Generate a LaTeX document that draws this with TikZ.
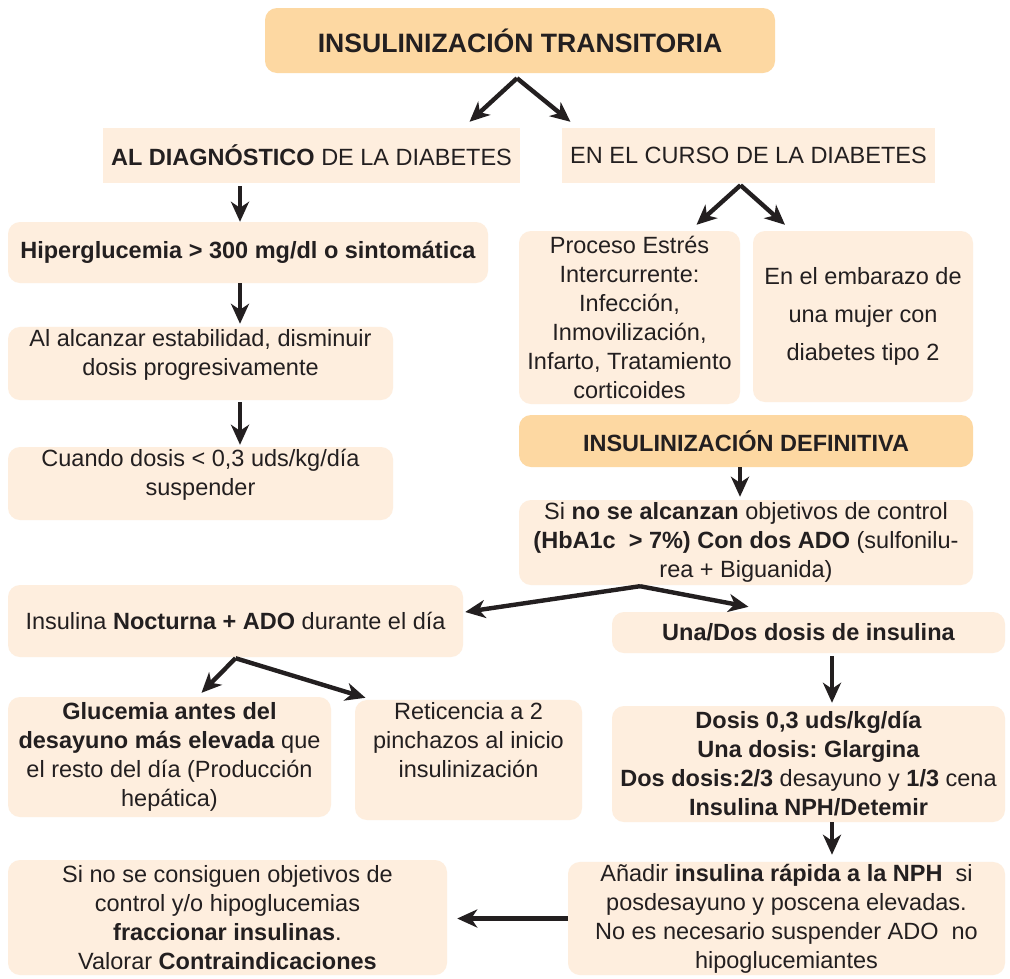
\documentclass[tikz,border=0pt]{standalone}
\usepackage{fontspec}
\setmainfont{Liberation Sans}
\usetikzlibrary{arrows.meta}
\frenchspacing
\definecolor{peachdark}{RGB}{253,216,162}
\definecolor{peachlight}{RGB}{254,238,222}
\definecolor{inkgray}{RGB}{35,31,32}
\tikzstyle{darkbox} = [rectangle, rounded corners=12pt, draw=none, fill=peachdark, text=inkgray, align=center, inner sep=2pt, font=\fontsize{23.5}{29}\selectfont]
\tikzstyle{lightbox} = [rectangle, rounded corners=12pt, draw=none, fill=peachlight, text=inkgray, align=center, inner sep=2pt, font=\fontsize{23.5}{29}\selectfont]
\tikzstyle{plainbox} = [rectangle, draw=none, fill=peachlight, text=inkgray, align=center, inner sep=2pt, font=\fontsize{23.5}{29}\selectfont]
\tikzstyle{edge} = [draw=inkgray, line width=4.4pt, -{Stealth[length=20pt, width=18pt, inset=6pt]}]

\begin{document}
\begin{tikzpicture}[x=1pt, y=-1pt]
\path[fill=white] (0,0) rectangle (1010,978);

\node (title) [darkbox, minimum width=510pt, minimum height=65pt, font=\fontsize{26.6}{30}\selectfont] at (520,40.5) {\textbf{INSULINIZACIÓN TRANSITORIA}};
\node (diag) [plainbox, minimum width=417pt, minimum height=55pt] at (311.5,155.5) {\textbf{AL DIAGNÓSTICO} DE LA DIABETES};
\node (curso) [plainbox, minimum width=373pt, minimum height=55pt] at (748.5,155.5) {EN EL CURSO DE LA DIABETES};

% left column
\node (hiper) [lightbox, minimum width=480pt, minimum height=61pt] at (248,252.5) {\textbf{Hiperglucemia > 300 mg/dl o sintomática}};
\node (estab) [lightbox, minimum width=385pt, minimum height=73pt, text depth=23pt] at (200.5,363.5) {Al alcanzar estabilidad, disminuir\\dosis progresivamente};
\node (susp) [lightbox, minimum width=385pt, minimum height=73pt, text depth=22pt] at (200.5,483.5) {Cuando dosis < 0,3 uds/kg/día\\suspender};

% right column
\node (estres) [lightbox, minimum width=221pt, minimum height=173pt] at (629.5,317.5) {Proceso Estrés\\Intercurrente:\\Infección,\\Inmovilización,\\Infarto, Tratamiento\\corticoides};
\node (embarazo) [lightbox, minimum width=220pt, minimum height=171pt] at (863,316.5) {En el embarazo de\\[9pt]una mujer con\\[9pt]diabetes tipo 2};
\node (defin) [darkbox, minimum width=454pt, minimum height=52pt] at (746,441) {\textbf{INSULINIZACIÓN DEFINITIVA}};
\node (objetivos) [lightbox, minimum width=454pt, minimum height=85pt] at (746,542.5) {Si \textbf{no se alcanzan} objetivos de control\\\textbf{(HbA1c~ > 7\%) Con dos ADO} (sulfonilu-\\rea + Biguanida)};

% lower part
\node (nocturna) [lightbox, minimum width=455pt, minimum height=72pt] at (235.5,621) {Insulina \textbf{Nocturna + ADO} durante el día};
\node (unados) [lightbox, minimum width=393pt, minimum height=41pt] at (808.5,632.5) {\textbf{Una/Dos dosis de insulina}};
\node (glucemia) [lightbox, minimum width=323pt, minimum height=120pt] at (169.5,757) {\textbf{Glucemia antes del}\\\textbf{desayuno más elevada} que\\el resto del día (Producción\\hepática)};
\node (reticencia) [lightbox, minimum width=227pt, minimum height=120pt, text depth=41pt] at (468.5,760) {Reticencia a 2\\pinchazos al inicio\\insulinización};
\node (dosis) [lightbox, minimum width=393pt, minimum height=116pt] at (808.5,764) {\textbf{Dosis 0,3 uds/kg/día}\\\textbf{Una dosis: Glargina}\\\textbf{Dos dosis:2/3} desayuno y \textbf{1/3} cena\\\textbf{Insulina NPH/Detemir}};
\node (rapida) [lightbox, minimum width=437pt, minimum height=113pt] at (786.5,918.5) {Añadir \textbf{insulina rápida a la NPH}~ si\\posdesayuno y poscena elevadas.\\No es necesario suspender ADO~ no\\hipoglucemiantes};
\node (fracc) [lightbox, minimum width=439pt, minimum height=115pt] at (227.5,917.5) {Si no se consiguen objetivos de\\control y/o hipoglucemias\\\textbf{fraccionar insulinas}.\\Valorar \textbf{Contraindicaciones}};

% split points and columns
\coordinate (splitT) at ([xshift=-3pt,yshift=-5pt]title.south);
\coordinate (splitC) at ([xshift=-8pt,yshift=-2pt]curso.south);
\coordinate (splitO) at ([xshift=-106pt,yshift=-1pt]objetivos.south);
\coordinate (splitN) at ([yshift=-1pt]nocturna.south);
\coordinate (colL) at (240,0);
\coordinate (colR) at (832,0);

\draw [edge] (splitT) -- ([xshift=158pt,yshift=6pt]diag.north);
\draw [edge] (splitT) -- ([xshift=-178pt,yshift=6pt]curso.north);
\draw [edge] ([yshift=-3pt]colL |- diag.south) -- (colL |- hiper.north);
\draw [edge] (colL |- hiper.south) -- ([yshift=3pt]colL |- estab.north);
\draw [edge] ([yshift=-2pt]colL |- estab.south) -- ([yshift=2pt]colL |- susp.north);
\draw [edge] (splitC) -- ([xshift=67pt,yshift=6pt]estres.north);
\draw [edge] (splitC) -- ([xshift=-78pt,yshift=6pt]embarazo.north);
\draw [edge] ([xshift=-6pt]defin.south) -- ([xshift=-6pt,yshift=3pt]objetivos.north);
\draw [edge] (splitO) -- ([xshift=2pt,yshift=9pt]nocturna.east);
\draw [edge] (splitO) -- ([xshift=-60pt,yshift=5pt]unados.north);
\draw [edge] (splitN) -- ([xshift=32pt,yshift=4pt]glucemia.north);
\draw [edge] (splitN) -- ([xshift=-103pt,yshift=2pt]reticencia.north);
\draw [edge] ([yshift=-3pt]colR |- unados.south) -- ([yshift=3pt]colR |- dosis.north);
\draw [edge] (colR |- dosis.south) -- ([yshift=7pt]colR |- rapida.north);
\draw [edge] (rapida.west) -- ([xshift=10pt]rapida.west -| fracc.east);

\end{tikzpicture}
\end{document}
